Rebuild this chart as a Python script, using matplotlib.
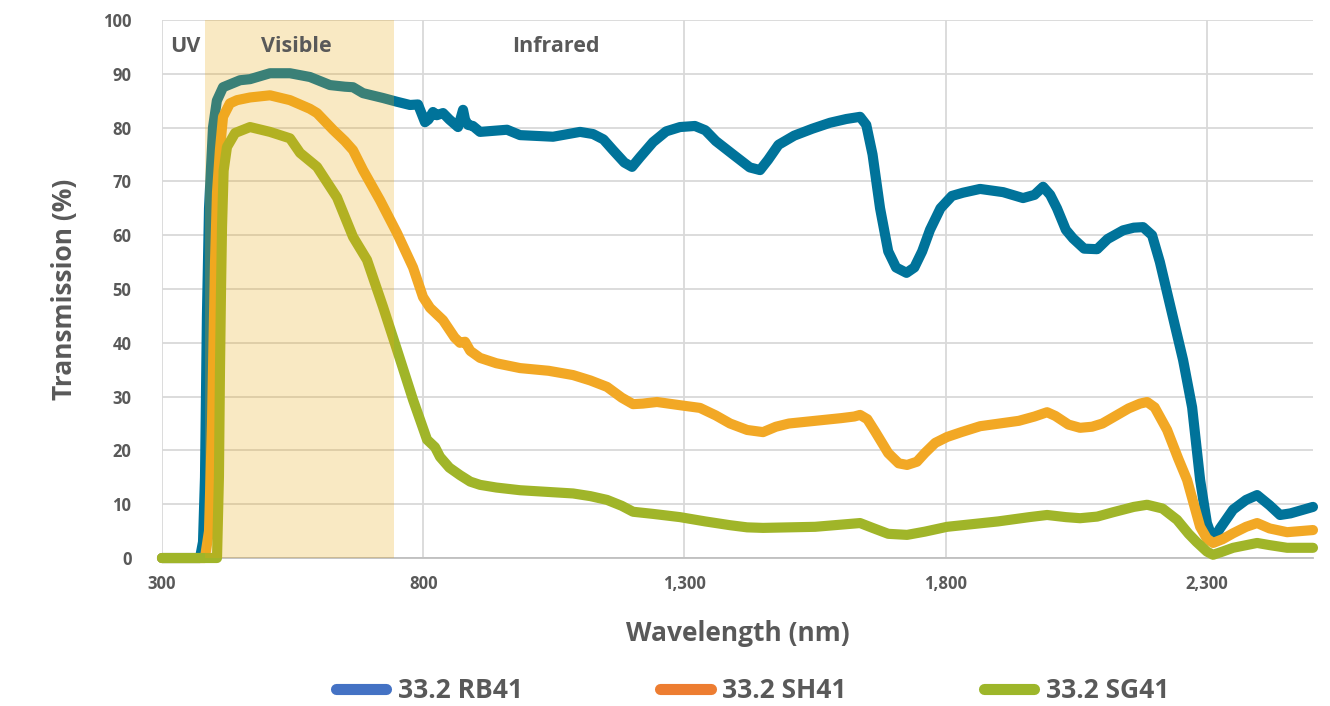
import matplotlib
matplotlib.use("Agg")
import matplotlib.pyplot as plt
from matplotlib.lines import Line2D

plt.rcParams['font.family'] = ['Open Sans', 'DejaVu Sans']

# wavelength (nm) / transmission (%)
rb41_nm = [300, 372.7, 378.5, 382.3, 386, 390, 397.6, 405, 416.8, 449.3, 468.5, 506.7, 545, 583.3,
           621.6, 650, 665.6, 684.8, 723, 749.8, 774.7, 790, 803.4, 810, 818.7, 826, 837.9, 850,
           866.6, 871, 876.2, 880, 885.7, 895, 908.7, 960.4, 985.3, 1048.5, 1100.2, 1125, 1145,
           1163.3, 1185, 1199.7, 1215, 1239.9, 1265, 1291.5, 1320, 1340, 1360, 1393, 1425, 1444.7,
           1460, 1480, 1510, 1545, 1578.7, 1610, 1636.1, 1648, 1660, 1674.4, 1690, 1705, 1725,
           1740, 1755, 1770, 1790, 1812, 1833.3, 1865.8, 1910, 1948.1, 1970, 1986.4, 2000, 2013,
           2030, 2043.8, 2065, 2089.8, 2110, 2139.5, 2160, 2177.8, 2195, 2210, 2229.5, 2254.4,
           2271.7, 2287, 2300, 2311.8, 2325, 2350.1, 2375, 2396.1, 2420, 2440, 2460, 2503]
rb41_t = [0, 0, 3, 15, 45, 65, 80, 85, 87.5, 88.8, 89, 90.1, 90.1, 89.4,
          87.9, 87.6, 87.5, 86.4, 85.5, 84.8, 84.2, 84.3, 81, 81.5, 82.9, 82.3, 82.7, 81.5,
          80.1, 81.5, 83.3, 81.5, 80.5, 80.3, 79.2, 79.6, 78.6, 78.3, 79.2, 78.8, 77.8,
          75.8, 73.5, 72.7, 74.5, 77.3, 79.3, 80.1, 80.3, 79.5, 77.5, 75, 72.6, 72.1,
          74, 76.8, 78.5, 79.8, 80.9, 81.6, 82, 80.5, 75, 65, 57, 54, 53,
          54, 57, 61, 65, 67.3, 67.9, 68.6, 68, 66.9, 67.5, 69, 67.5, 65,
          61, 59.4, 57.5, 57.4, 59.3, 60.9, 61.4, 61.5, 60, 55, 47, 36.8,
          28, 14.5, 6.5, 3.3, 5.5, 9, 10.8, 11.7, 9.8, 8, 8.3, 9.5]

sh41_nm = [300, 382, 390, 395.7, 401.5, 405.3, 411, 416.8, 430, 443.6, 468.5, 506.7, 545, 583,
           596.7, 627.3, 650, 665.6, 684.8, 717.3, 749.8, 780.5, 799.6, 813, 837.9, 860, 870.4,
           880, 890, 908.7, 940, 985.3, 1040, 1086.8, 1120, 1151.9, 1180, 1201.6, 1220, 1247.5,
           1291.5, 1329.8, 1360, 1387.3, 1420, 1450.4, 1475, 1500, 1550, 1600, 1625, 1636.1, 1650,
           1665, 1690, 1710, 1726.1, 1745, 1760, 1780, 1802.7, 1830, 1866, 1940, 1970, 1994.1,
           2010, 2035, 2057.2, 2080, 2100, 2125, 2150, 2172, 2185.5, 2200, 2223.8, 2245, 2262.1,
           2287, 2300, 2311.8, 2330, 2350.1, 2375, 2396.1, 2420, 2453.5, 2503]
sh41_t = [0, 0, 5, 25, 55, 68, 76, 82, 84.5, 85.1, 85.6, 86, 85.1, 83.5,
          82.7, 79.6, 77.5, 75.8, 72.1, 66.5, 60.4, 54, 48.5, 46.5, 44.2, 41, 40,
          40.2, 38.5, 37.2, 36.2, 35.3, 34.8, 34, 33, 31.8, 29.8, 28.6, 28.7, 29,
          28.4, 27.9, 26.5, 25, 23.8, 23.4, 24.4, 25, 25.5, 26, 26.3, 26.6, 25.8,
          23.5, 19.5, 17.6, 17.3, 17.9, 19.5, 21.4, 22.5, 23.4, 24.5, 25.5, 26.3, 27.1,
          26.4, 24.8, 24.2, 24.4, 25, 26.4, 27.8, 28.7, 29, 28, 23.8, 18.5, 14.5,
          5.8, 3.6, 2.8, 3.5, 4.6, 5.8, 6.5, 5.5, 4.8, 5.2]

sg41_nm = [300, 405.3, 409, 411, 413, 414.9, 418, 424.4, 440, 468.5, 506.7, 545, 564.2, 596.7,
           635, 665.6, 692.4, 723, 749.8, 780.5, 807.3, 822.6, 832.1, 850, 870.4, 890, 908.7,
           940, 985.3, 1086.8, 1120, 1151.9, 1180, 1201.6, 1240, 1291.5, 1340, 1387.3, 1420,
           1450.4, 1550, 1636.1, 1660, 1690, 1726.1, 1760, 1802.7, 1900, 1960, 1994.1, 2030,
           2057.2, 2090, 2120, 2160, 2185.5, 2215, 2242.9, 2265, 2280, 2300, 2311.8, 2330,
           2350.1, 2396.1, 2420, 2453.5, 2503]
sg41_t = [0, 0, 15, 35, 50, 61.5, 72, 76.4, 79, 80.1, 79.2, 78, 75.3, 72.7,
          67, 59.7, 55.4, 46.7, 38.7, 29.4, 22, 20.6, 18.8, 16.8, 15.4, 14.2, 13.6,
          13.1, 12.6, 12, 11.5, 10.8, 9.7, 8.6, 8.2, 7.6, 6.8, 6.1, 5.7,
          5.6, 5.8, 6.5, 5.6, 4.5, 4.3, 4.9, 5.8, 6.8, 7.6, 8, 7.6,
          7.4, 7.7, 8.5, 9.5, 9.9, 9.2, 7.1, 4.5, 3, 1.2, 0.6, 1.2,
          1.9, 2.8, 2.4, 1.9, 1.9]

series_names = ['33.2 RB41', '33.2 SH41', '33.2 SG41']
line_colors = ['#00739A', '#F2A825', '#A0B529']
legend_colors = ['#4472C4', '#ED7D31', '#9DB62A']

x_ticks = [300, 800, 1300, 1800, 2300]
x_labels = ['300', '800', '1,300', '1,800', '2,300']
y_ticks = list(range(0, 101, 10))

visible_band = (382, 744)
regions = [('UV', 344), ('Visible', 558), ('Infrared', 1054)]

grey = '#595959'

fig = plt.figure(figsize=(13.3, 7.06), dpi=100)
ax = fig.add_axes([0.1218, 0.2096, 0.8654, 0.7621])

for xs, ys, c in zip([rb41_nm, sh41_nm, sg41_nm], [rb41_t, sh41_t, sg41_t], line_colors):
    ax.plot(xs, ys, color=c, lw=7.3, solid_capstyle='round', solid_joinstyle='round',
            zorder=3, clip_on=False)

ax.axvspan(*visible_band, color='#EBA810', alpha=0.25, lw=0, zorder=4)

for name, xpos in regions:
    ax.text(xpos, 95, name, ha='center', va='center', fontsize=15.5, fontweight='bold',
            color=grey, zorder=5)

ax.set_xlim(300, 2503)
ax.set_ylim(0, 100)
ax.set_xticks(x_ticks)
ax.set_xticklabels(x_labels)
ax.set_yticks(y_ticks)
ax.grid(True, color='#D9D9D9', lw=1.3, zorder=0)
ax.set_axisbelow(True)
for s in ['top', 'right', 'left']:
    ax.spines[s].set_visible(False)
ax.spines['bottom'].set_color('#BFBFBF')
ax.spines['bottom'].set_linewidth(1.3)
ax.tick_params(length=0, labelsize=12, labelcolor=grey)
ax.tick_params(axis='y', pad=22)
ax.tick_params(axis='x', pad=12)
for lab in ax.get_xticklabels() + ax.get_yticklabels():
    lab.set_fontweight('bold')

ax.set_xlabel('Wavelength (nm)', fontsize=19, fontweight='bold', color=grey, labelpad=20)
ax.set_ylabel('Transmission (%)', fontsize=19, fontweight='bold', color=grey, labelpad=18)

handles = [Line2D([0], [0], color=c, lw=8, solid_capstyle='round') for c in legend_colors]
fig.legend(handles, series_names, loc='center', bbox_to_anchor=(0.566, 0.022), ncol=3,
           frameon=False, handlelength=1.9, columnspacing=5.2, handletextpad=0.45,
           prop={'weight': 'bold', 'size': 19}, labelcolor=grey)

fig.savefig('out.png', dpi=100)
